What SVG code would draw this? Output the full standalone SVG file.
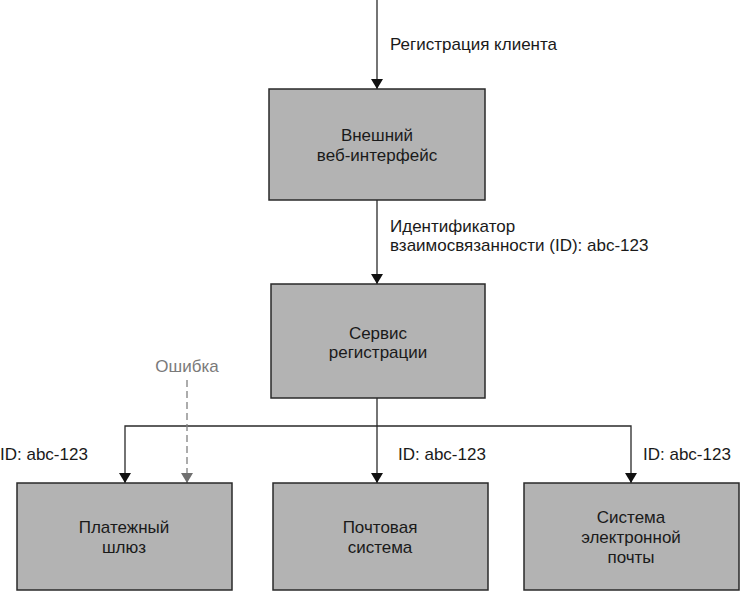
<svg xmlns="http://www.w3.org/2000/svg" width="740" height="594" viewBox="0 0 740 594">
<defs>
<style>
text{font-family:"Liberation Sans",Arial,sans-serif;font-size:17px;fill:#1a1a1a}
.box{fill:#b3b3b3;stroke:#2a2a2a;stroke-width:1.5}
.c{text-anchor:middle}
.ln{fill:none;stroke:#2a2a2a;stroke-width:1.3}
.dash{fill:none;stroke:#808080;stroke-width:1.3;stroke-dasharray:7,4}
.gray{fill:#7a7a7a}
</style>
<marker id="ah" viewBox="0 0 10 12" refX="10" refY="6" markerWidth="10" markerHeight="12" orient="auto" markerUnits="userSpaceOnUse"><path d="M0,0 L10,6 L0,12 Z" fill="#111"/></marker>
<marker id="ahg" viewBox="0 0 10 12" refX="10" refY="6" markerWidth="10" markerHeight="12" orient="auto" markerUnits="userSpaceOnUse"><path d="M0,0 L10,6 L0,12 Z" fill="#707070"/></marker>
</defs>
<g id="connectors">
<line class="ln" x1="377" y1="0" x2="377" y2="89" marker-end="url(#ah)"/>
<text x="390" y="50">Регистрация клиента</text>
<line class="ln" x1="377" y1="200" x2="377" y2="284" marker-end="url(#ah)"/>
<text x="390" y="232">Идентификатор</text>
<text x="390" y="251">взаимосвязанности (ID): abc-123</text>
<line class="ln" x1="377" y1="398" x2="377" y2="483" marker-end="url(#ah)"/>
<polyline class="ln" points="377,426 125,426 125,483" marker-end="url(#ah)"/>
<polyline class="ln" points="377,426 631,426 631,483" marker-end="url(#ah)"/>
<line class="dash" x1="187" y1="380" x2="187" y2="483" marker-end="url(#ahg)"/>
<text class="c gray" x="187" y="372">Ошибка</text>
<text x="0" y="460">ID: abc-123</text>
<text x="398" y="460">ID: abc-123</text>
<text x="643" y="460">ID: abc-123</text>
</g>
<g id="node-web">
<rect class="box" x="269" y="89" width="216" height="111"/>
<text class="c" x="377" y="141">Внешний</text>
<text class="c" x="377" y="161">веб-интерфейс</text>
</g>
<g id="node-reg">
<rect class="box" x="271" y="284" width="214" height="114"/>
<text class="c" x="378" y="339">Сервис</text>
<text class="c" x="378" y="358">регистрации</text>
</g>
<g id="node-pay">
<rect class="box" x="17" y="483" width="215" height="107"/>
<text class="c" x="124" y="533">Платежный</text>
<text class="c" x="124" y="553">шлюз</text>
</g>
<g id="node-post">
<rect class="box" x="273" y="483" width="215" height="107"/>
<text class="c" x="380" y="533">Почтовая</text>
<text class="c" x="380" y="553">система</text>
</g>
<g id="node-email">
<rect class="box" x="524" y="483" width="215" height="107"/>
<text class="c" x="631" y="523">Система</text>
<text class="c" x="631" y="543">электронной</text>
<text class="c" x="631" y="563">почты</text>
</g>
</svg>
